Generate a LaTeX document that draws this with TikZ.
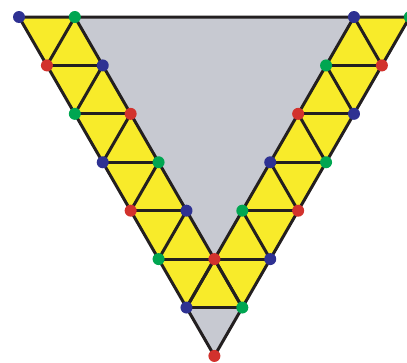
\documentclass[tikz,border=0pt]{standalone}
\definecolor{ln}{HTML}{231F20}
\definecolor{gy}{HTML}{C7C9D1}
\definecolor{yl}{HTML}{F8EB2A}
\definecolor{cb}{HTML}{2E3192}
\definecolor{cg}{HTML}{00A651}
\definecolor{cr}{HTML}{D2322D}
\begin{document}
\begin{tikzpicture}[x=55.83pt,y=-48.42pt,
  dot/.style={circle,inner sep=0pt,minimum size=12pt,draw=none},
  edge/.style={draw=ln,line width=3pt,line join=round}]
\useasboundingbox (-19pt,17pt) rectangle (388pt,-345pt);
\foreach \r/\h in {0/0,0/2,0/12,0/14,1/1,1/3,1/11,1/13,2/2,2/4,2/10,2/12,3/3,3/5,3/9,3/11,4/4,4/6,4/8,4/10,5/5,5/7,5/9,6/6,6/8,7/7}
  \coordinate (n\r-\h) at ({\h/2},\r);
% fills
\fill[gy] (n0-0) -- (n0-14) -- (n7-7) -- cycle;
\fill[yl] (n0-0) -- (n0-2) -- (n6-8) -- (n6-6) -- cycle;
\fill[yl] (n0-12) -- (n0-14) -- (n6-8) -- (n6-6) -- cycle;
% edges
\draw[edge] (n0-0) -- (n0-14) -- (n7-7) -- cycle;
\draw[edge] (n0-2) -- (n6-8);
\draw[edge] (n0-12) -- (n6-6);
\foreach \a/\b in {n1-1/n1-3,n1-11/n1-13,n2-2/n2-4,n2-10/n2-12,n3-3/n3-5,n3-9/n3-11,n4-4/n4-6,n4-8/n4-10,n5-5/n5-9,n6-6/n6-8,
  n0-2/n1-1,n1-3/n2-2,n2-4/n3-3,n3-5/n4-4,n4-6/n5-5,n5-7/n6-6,
  n0-12/n1-13,n1-11/n2-12,n2-10/n3-11,n3-9/n4-10,n4-8/n5-9,n5-7/n6-8}
  \draw[edge] (\a) -- (\b);
% dots
\foreach \r/\h/\c in {0/0/cb,0/2/cg,0/12/cb,0/14/cg,
  1/1/cr,1/3/cb,1/11/cg,1/13/cr,
  2/2/cg,2/4/cr,2/10/cr,2/12/cb,
  3/3/cb,3/5/cg,3/9/cb,3/11/cg,
  4/4/cr,4/6/cb,4/8/cg,4/10/cr,
  5/5/cg,5/7/cr,5/9/cb,
  6/6/cb,6/8/cg,
  7/7/cr}
  \node[dot,fill=\c] (d\r-\h) at (n\r-\h) {};
\end{tikzpicture}
\end{document}
